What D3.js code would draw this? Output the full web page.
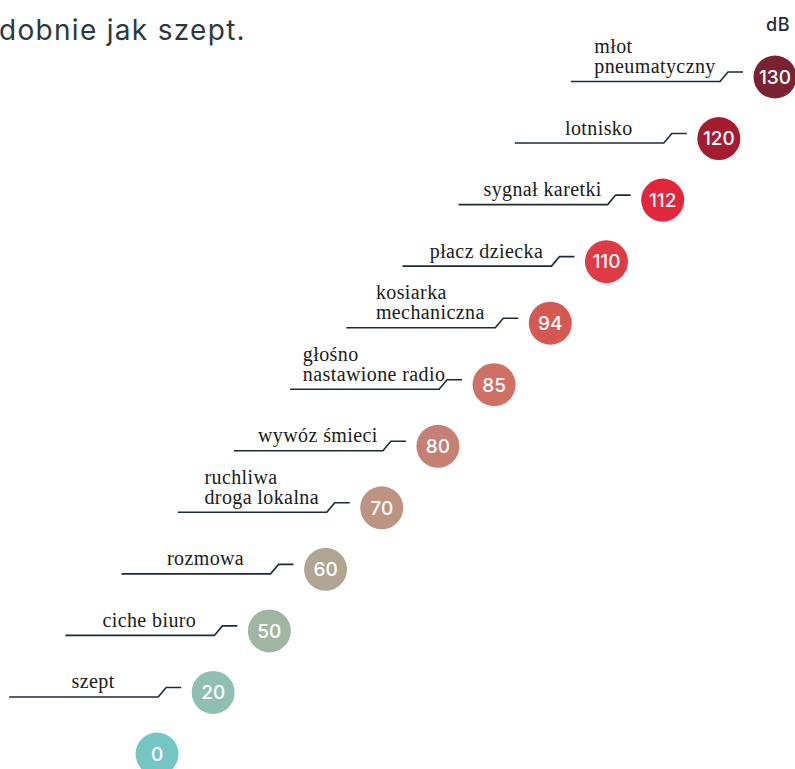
<!DOCTYPE html>
<html>
<head>
<meta charset="utf-8">
<script src="https://cdn.jsdelivr.net/npm/d3@7"></script>
<style>
  body { margin: 0; background: #fff; overflow: hidden; }
</style>
</head>
<body>
<div id="chart"></div>
<script>
// data, bottom to top
var values = [0, 20, 50, 60, 70, 80, 85, 94, 110, 112, 120, 130];
var labels = [
    [],
    ["szept"],
    ["ciche biuro"],
    ["rozmowa"],
    ["ruchliwa", "droga lokalna"],
    ["wywóz śmieci"],
    ["głośno", "nastawione radio"],
    ["kosiarka", "mechaniczna"],
    ["płacz dziecka"],
    ["sygnał karetki"],
    ["lotnisko"],
    ["młot", "pneumatyczny"]
];
var colors = ["#74c6c4", "#8fbfb2", "#a1b5a3", "#b0a592", "#bd9482", "#c58073",
              "#cf7065", "#d65852", "#e03a44", "#e2263c", "#a51c30", "#7b2232"];

var w = 795;
var h = 769;
var r = 21.5;

var svg = d3.select("#chart")
    .append("svg")
    .attr("width", w)
    .attr("height", h);

var keys = values.map(function(d, i) { return String(i); });
var xScale = d3.scalePoint().domain(keys).range([157, 775]);
var yScale = d3.scalePoint().domain(keys).range([754, 77]);

// title (cut off at the left edge)
svg.append("text")
    .attr("x", -1)
    .attr("y", 40)
    .attr("font-family", "Inter, sans-serif")
    .attr("font-size", "28px")
    .attr("letter-spacing", "1.3px")
    .attr("fill", "#2b3840")
    .text("dobnie jak szept.");

svg.append("text")
    .attr("x", 790)
    .attr("y", 31)
    .attr("text-anchor", "end")
    .attr("font-family", "Inter, sans-serif")
    .attr("font-size", "18px")
    .attr("font-weight", 500)
    .attr("letter-spacing", "0.5px")
    .attr("fill", "#1f2b38")
    .text("dB");

var items = svg.selectAll("g.item")
    .data(values)
    .enter()
    .append("g")
    .attr("class", "item")
    .attr("transform", function(d, i) {
        return "translate(" + xScale(String(i)) + "," + yScale(String(i)) + ")";
    });

// leader lines
items.filter(function(d, i) { return labels[i].length > 0; })
    .append("path")
    .attr("d", "M-204,4.5 H-55 L-47,-5 H-32")
    .attr("fill", "none")
    .attr("stroke", "#1e2a3a")
    .attr("stroke-width", 1.6);

// labels: block left aligned, centred over the leader
items.each(function(d, i) {
    var lines = labels[i];
    if (!lines.length) return;
    var g = d3.select(this);
    var t = g.append("text")
        .attr("font-family", "'Liberation Serif', serif")
        .attr("font-size", "20px")
        .attr("letter-spacing", "0.4px")
        .attr("fill", "#1a1a1a");
    lines.forEach(function(s, k) {
        t.append("tspan")
            .attr("x", 0)
            .attr("y", -4 - (lines.length - 1 - k) * 20)
            .text(s);
    });
    var bw = t.node().getBBox().width;
    t.attr("transform", "translate(" + (-120 - bw / 2) + ",0)");
});

items.append("circle")
    .attr("r", r)
    .attr("fill", function(d, i) { return colors[i]; });

items.append("text")
    .attr("text-anchor", "middle")
    .attr("dy", "0.36em")
    .attr("font-family", "Inter, sans-serif")
    .attr("font-size", "19px")
    .attr("font-weight", 500)
    .attr("fill", "#fff")
    .text(function(d) { return d; });
</script>
</body>
</html>
